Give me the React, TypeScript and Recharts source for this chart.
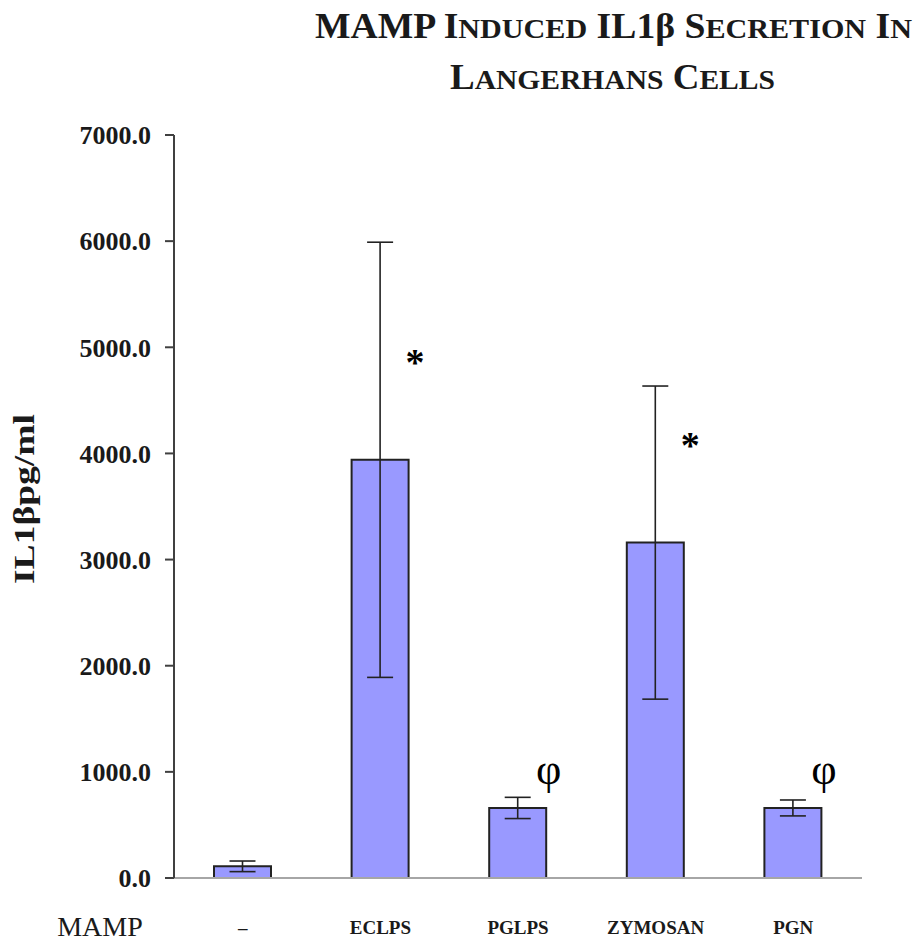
import React from 'react';
import { BarChart, Bar, XAxis, YAxis, ErrorBar, LabelList, Label } from 'recharts';

// IL-1β secretion by Langerhans cells after MAMP stimulation (mean ± error)
const treatments = ['–', 'ECLPS', 'PGLPS', 'ZYMOSAN', 'PGN'];
const il1bMean = [110, 3940, 660, 3160, 660];
const il1bError = [50, 2050, 100, 1475, 75];
const significance = ['', '*', 'φ', '*', 'φ'];
const yTicks = [0, 1000, 2000, 3000, 4000, 5000, 6000, 7000];

const data = treatments.map((treatment, i) => ({
  treatment,
  mean: il1bMean[i],
  err: il1bError[i],
  sig: significance[i],
}));

const SERIF = '"Liberation Serif", "Times New Roman", serif';
const INK = '#1a1a1a';
const FRAME = '#a6a6a6';

const CategoryTick = (props: any) => {
  const { x, y, payload } = props;
  return (
    <text x={x} y={y + 56} textAnchor="middle" fontFamily={SERIF} fontWeight="bold" fontSize={19} fill={INK}>
      {payload.value}
    </text>
  );
};

const SignificanceMark = (props: any) => {
  const { x, y, width, value } = props;
  if (!value) return null;
  const cx = Number(x) + Number(width) / 2 + 33;
  if (value === '*') {
    return (
      <text x={cx + 2} y={Number(y) - 105 + 20} textAnchor="middle" fontFamily={SERIF} fontWeight="bold" fontSize={38} fill="#000">
        {value}
      </text>
    );
  }
  return (
    <text x={cx - 2} y={Number(y) - 34 + 10} textAnchor="middle" fontFamily={SERIF} fontSize={44} fill="#000">
      {value}
    </text>
  );
};

export default function App() {
  return (
    <div style={{ position: 'absolute', left: 0, top: 0, width: 921, height: 943, background: '#fff' }}>
      <BarChart
        width={921}
        height={943}
        data={data}
        margin={{ top: 135, right: 59, left: 74, bottom: 15 }}
      >
        <XAxis
          xAxisId="main"
          dataKey="treatment"
          height={50}
          tickLine={false}
          tickSize={0}
          tickMargin={0}
          axisLine={{ stroke: FRAME, strokeWidth: 2 }}
          tick={<CategoryTick />}
          interval={0}
        >
          <Label
            content={(p: any) => (
              <text
                x={p.viewBox.x - 74}
                y={p.viewBox.y + 58}
                textAnchor="middle"
                fontFamily={SERIF}
                fontSize={28}
                fill={INK}
              >
                MAMP
              </text>
            )}
          />
        </XAxis>
        <XAxis
          xAxisId="top"
          orientation="top"
          dataKey="treatment"
          height={0}
          tick={false}
          tickLine={false}
          axisLine={{ stroke: FRAME, strokeWidth: 2 }}
        />
        <YAxis
          yAxisId="main"
          width={100}
          domain={[0, 7000]}
          ticks={yTicks}
          interval={0}
          tickFormatter={(v: number) => v.toFixed(1)}
          tickSize={9}
          tickMargin={14}
          axisLine={{ stroke: '#404040', strokeWidth: 2 }}
          tickLine={{ stroke: '#404040', strokeWidth: 2 }}
          tick={{ fontFamily: SERIF, fontWeight: 'bold', fontSize: 26, fill: INK }}
        >
          <Label
            content={(p: any) => {
              const cx = 34;
              const cy = p.viewBox.y + 364;
              return (
                <text
                  x={cx}
                  y={cy}
                  transform={`rotate(-90, ${cx}, ${cy})`}
                  textAnchor="middle"
                  fontFamily={SERIF}
                  fontWeight="bold"
                  fontSize={30}
                  fill={INK}
                  textLength={170}
                  lengthAdjust="spacingAndGlyphs"
                >
                  IL1βpg/ml
                </text>
              );
            }}
          />
        </YAxis>
        <YAxis
          yAxisId="right"
          orientation="right"
          width={0}
          domain={[0, 7000]}
          tick={false}
          tickLine={false}
          axisLine={{ stroke: FRAME, strokeWidth: 2 }}
        />
        <Bar
          xAxisId="main"
          yAxisId="main"
          dataKey="mean"
          fill="#9999ff"
          stroke="#222"
          strokeWidth={2}
          barSize={57}
          isAnimationActive={false}
        >
          <ErrorBar dataKey="err" direction="y" width={13} stroke="#222" strokeWidth={1.6} isAnimationActive={false} />
          <LabelList dataKey="sig" content={<SignificanceMark />} />
        </Bar>
      </BarChart>
      <svg
        width={921}
        height={110}
        style={{ position: 'absolute', left: 0, top: 0, pointerEvents: 'none' }}
      >
        <text x={315} y={38} fontFamily={SERIF} fontWeight="bold" fill={INK} textLength={597} lengthAdjust="spacingAndGlyphs">
          <tspan fontSize={35}>MAMP I</tspan>
          <tspan fontSize={28}>NDUCED</tspan>
          <tspan fontSize={35}> IL1β S</tspan>
          <tspan fontSize={28}>ECRETION</tspan>
          <tspan fontSize={35}> I</tspan>
          <tspan fontSize={28}>N</tspan>
        </text>
        <text x={450} y={89} fontFamily={SERIF} fontWeight="bold" fill={INK} textLength={325} lengthAdjust="spacingAndGlyphs">
          <tspan fontSize={35}>L</tspan>
          <tspan fontSize={28}>ANGERHANS</tspan>
          <tspan fontSize={35}> C</tspan>
          <tspan fontSize={28}>ELLS</tspan>
        </text>
      </svg>
    </div>
  );
}
